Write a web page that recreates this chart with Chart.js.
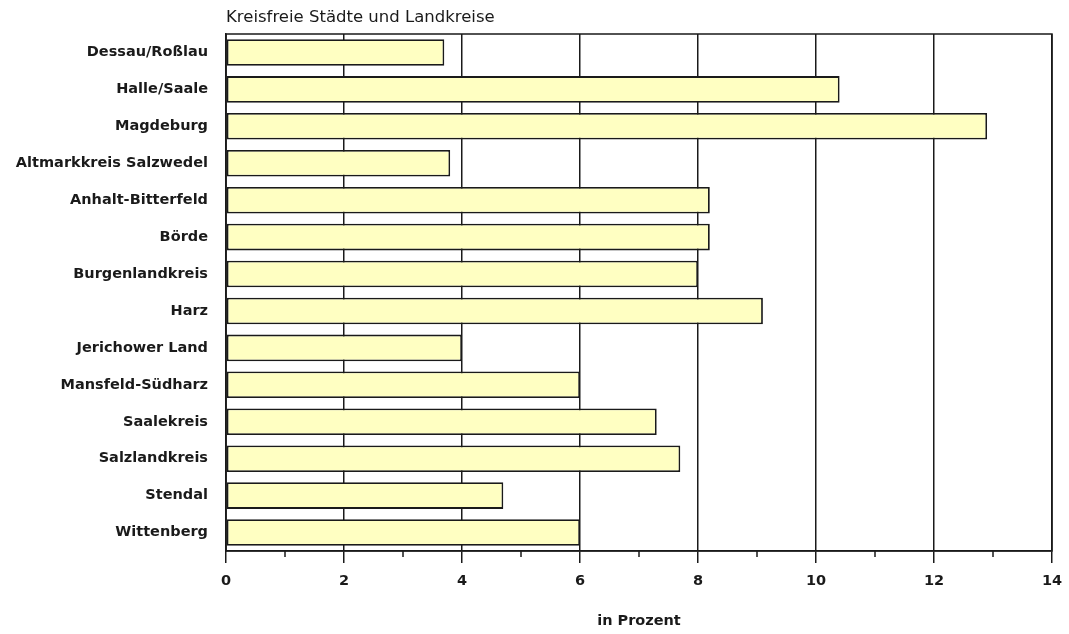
<!DOCTYPE html>
<html>
<head>
    <meta charset="utf-8">
    <title>Kreisfreie Städte und Landkreise</title>
    <script src="https://cdn.jsdelivr.net/npm/chart.js"></script>
    <style>
        html, body { margin: 0; padding: 0; background: #fff; }
        #wrap { width: 1069px; height: 634px; position: relative; }
    </style>
</head>
<body>
    <div id="wrap">
        <canvas id="myChart"></canvas>
    </div>

    <script>
        // data
        const regions = [
            'Dessau/Roßlau', 'Halle/Saale', 'Magdeburg', 'Altmarkkreis Salzwedel',
            'Anhalt-Bitterfeld', 'Börde', 'Burgenlandkreis', 'Harz', 'Jerichower Land',
            'Mansfeld-Südharz', 'Saalekreis', 'Salzlandkreis', 'Stendal', 'Wittenberg'
        ];
        const percent = [3.7, 10.4, 12.9, 3.8, 8.2, 8.2, 8.0, 9.1, 4.0, 6.0, 7.3, 7.7, 4.7, 6.0];
        const xMin = 0;
        const xMax = 14;
        const headline = 'Kreisfreie Städte und Landkreise';
        const axisTitle = 'in Prozent';

        const ink = '#1a1a1a';
        const labelFont = { family: '"DejaVu Sans"', size: 14.5, weight: 'bold' };

        // frame round the plot, short minor ticks and the headline above it
        const framePlugin = {
            id: 'frame',
            afterDatasetsDraw(chart) {
                const a = chart.chartArea;
                const ctx = chart.ctx;
                const x = chart.scales.x;
                ctx.save();
                ctx.strokeStyle = ink;
                ctx.lineWidth = 1.5;
                ctx.strokeRect(a.left, a.top, a.right - a.left, a.bottom - a.top);
                // minor ticks at the odd values
                ctx.beginPath();
                x.ticks.forEach(t => {
                    if (t.value % 2 !== 0) {
                        const px = x.getPixelForValue(t.value);
                        ctx.moveTo(px, a.bottom);
                        ctx.lineTo(px, a.bottom + 6);
                    }
                });
                ctx.stroke();
                ctx.restore();
            },
            afterDraw(chart) {
                const a = chart.chartArea;
                const ctx = chart.ctx;
                ctx.save();
                ctx.fillStyle = ink;
                ctx.font = '16.5px "DejaVu Sans"';
                ctx.textAlign = 'left';
                ctx.textBaseline = 'middle';
                ctx.fillText(headline, a.left, a.top - 16);
                ctx.restore();
            }
        };

        var chart = new Chart(document.getElementById('myChart'), {
            type: 'bar',
            data: {
                labels: regions,
                datasets: [{
                    data: percent,
                    backgroundColor: '#ffffc2',
                    borderColor: ink,
                    borderWidth: 1.8,
                    borderSkipped: false,
                    barPercentage: 0.72,
                    categoryPercentage: 1
                }]
            },
            options: {
                indexAxis: 'y',
                responsive: true,
                maintainAspectRatio: false,
                animation: false,
                layout: { padding: { top: 34, right: 17, left: 0, bottom: 0 } },
                plugins: {
                    legend: { display: false },
                    tooltip: { enabled: false }
                },
                scales: {
                    x: {
                        min: xMin,
                        max: xMax,
                        border: { color: ink, width: 1.5 },
                        grid: {
                            color: c => (c.tick && c.tick.value % 2 === 0) ? ink : 'rgba(0,0,0,0)',
                            tickColor: c => (c.tick && c.tick.value % 2 === 0) ? ink : 'rgba(0,0,0,0)',
                            lineWidth: 1.5,
                            tickLength: 12
                        },
                        ticks: {
                            stepSize: 1,
                            autoSkip: false,
                            maxRotation: 0,
                            padding: 10,
                            color: ink,
                            font: labelFont,
                            callback: v => (v % 2 === 0 ? v : '')
                        },
                        title: {
                            display: true,
                            text: axisTitle,
                            color: ink,
                            font: labelFont,
                            padding: { top: 0, bottom: 4 }
                        },
                        afterFit(scale) {
                            scale.height = 83;
                            scale.paddingLeft = 0;
                            scale.paddingRight = 0;
                        }
                    },
                    y: {
                        border: { color: ink, width: 1.5 },
                        grid: { display: false },
                        ticks: {
                            padding: 10,
                            color: ink,
                            font: labelFont
                        },
                        afterFit(scale) { scale.width = 226; }
                    }
                }
            },
            plugins: [framePlugin]
        });
    </script>
</body>
</html>
